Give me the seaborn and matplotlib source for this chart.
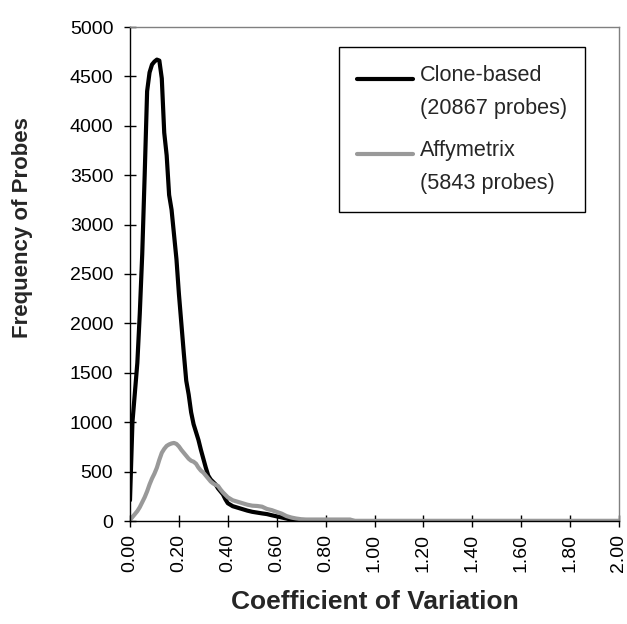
import numpy as np
import pandas as pd
import matplotlib
matplotlib.use("Agg")
import matplotlib.pyplot as plt
from matplotlib.legend_handler import HandlerLine2D
from matplotlib.lines import Line2D
import seaborn as sns

# ---- data ----
cv = [0.00, 0.01, 0.02, 0.03, 0.04, 0.05, 0.06, 0.07, 0.08, 0.09,
      0.10, 0.11, 0.12, 0.13, 0.14, 0.15, 0.16, 0.17, 0.18, 0.19,
      0.20, 0.21, 0.22, 0.23, 0.24, 0.25, 0.26, 0.27, 0.28, 0.29,
      0.30, 0.31, 0.32, 0.33, 0.34, 0.35, 0.36, 0.37, 0.38, 0.39,
      0.40, 0.42, 0.44, 0.46, 0.48, 0.50, 0.52, 0.54, 0.56, 0.58,
      0.60, 0.62, 0.64, 0.66, 0.68, 0.70, 0.72, 0.76, 0.80, 0.84,
      0.88, 0.90, 0.92, 1.00, 1.50, 2.00]

clone_based = [210, 1000, 1300, 1600, 2100, 2700, 3500, 4350, 4540, 4620,
               4650, 4670, 4660, 4480, 3930, 3700, 3300, 3150, 2900, 2650,
               2300, 2000, 1700, 1420, 1280, 1100, 980, 900, 820, 720,
               630, 540, 460, 420, 395, 370, 330, 300, 270, 220,
               180, 150, 135, 120, 105, 93, 85, 77, 70, 58,
               47, 36, 25, 13, 5, 0, 0, 0, 0, 0,
               0, 0, 0, 0, 0, 0]

affymetrix = [10, 40, 70, 100, 140, 190, 240, 300, 370, 430,
              480, 540, 620, 690, 730, 760, 775, 785, 790, 780,
              755, 720, 690, 660, 630, 610, 600, 580, 540, 510,
              490, 460, 430, 400, 380, 365, 355, 320, 290, 265,
              240, 210, 195, 180, 165, 155, 152, 145, 122, 110,
              92, 75, 50, 35, 25, 18, 15, 15, 15, 15,
              15, 15, 0, 0, 0, 0]

series_names = ["Clone-based\n(20867 probes)", "Affymetrix\n(5843 probes)"]
series_colors = ["#000000", "#999999"]
x_ticks = [0.0, 0.2, 0.4, 0.6, 0.8, 1.0, 1.2, 1.4, 1.6, 1.8, 2.0]
y_ticks = [0, 500, 1000, 1500, 2000, 2500, 3000, 3500, 4000, 4500, 5000]

df = pd.concat([
    pd.DataFrame({"cv": cv, "freq": clone_based, "series": series_names[0]}),
    pd.DataFrame({"cv": cv, "freq": affymetrix, "series": series_names[1]}),
], ignore_index=True)

sns.set_theme(style="white")
plt.rcParams["font.family"] = ["Liberation Sans", "DejaVu Sans"]

fig = plt.figure(figsize=(6.27, 6.24), dpi=100)
ax = fig.add_axes([130 / 627, 1 - 521 / 624, 489 / 627, 494 / 624])

sns.lineplot(data=df, x="cv", y="freq", hue="series", hue_order=series_names,
             palette=series_colors, linewidth=3.0, ax=ax, legend=False,
             sort=False, estimator=None)

ax.set_xlim(0, 2.0)
ax.set_ylim(0, 5000)
ax.set_xticks(x_ticks)
ax.set_xticklabels([f"{t:.2f}" for t in x_ticks], rotation=90)
ax.set_yticks(y_ticks)
ax.set_yticklabels([str(t) for t in y_ticks])
ax.tick_params(axis="both", direction="inout", length=8, width=1, color="black",
               labelsize=14, labelcolor="black")
ax.tick_params(axis="x", pad=5, bottom=True)
ax.tick_params(axis="y", pad=8, left=True)

for side in ["left", "bottom"]:
    ax.spines[side].set_color("black")
    ax.spines[side].set_linewidth(1.0)
for side in ["top", "right"]:
    ax.spines[side].set_color("#808080")
    ax.spines[side].set_linewidth(1.0)
    ax.spines[side].set_visible(True)
ax.set_xlabel("")
ax.set_ylabel("")

fig.text(375 / 627, 1 - 602 / 624, "Coefficient of Variation", ha="center",
         va="center", fontsize=19, fontweight="bold")
fig.text(23 / 627, 1 - 228 / 624, "Frequency of Probes", ha="center",
         va="center", rotation=90, fontsize=16, fontweight="bold")


class FirstLineHandler(HandlerLine2D):
    def __init__(self, shift, **kw):
        super().__init__(**kw)
        self.shift = shift

    def create_artists(self, legend, orig_handle, xdescent, ydescent, width,
                       height, fontsize, trans):
        arts = super().create_artists(legend, orig_handle, xdescent, ydescent,
                                      width, height, fontsize, trans)
        for a in arts:
            a.set_ydata(np.asarray(a.get_ydata(), dtype=float) + self.shift)
        return arts


handles = [Line2D([], [], color=c, linewidth=3.0) for c in series_colors]
leg = ax.legend(handles, series_names, loc="upper left",
                bbox_to_anchor=(339 / 627, 1 - 47 / 624),
                bbox_transform=fig.transFigure, fontsize=15.6, frameon=True,
                fancybox=False, edgecolor="black", framealpha=1,
                handlelength=2.55, handletextpad=0.33, borderpad=0.85,
                labelspacing=0.95, borderaxespad=0,
                handler_map={h: FirstLineHandler(10.0) for h in handles})
leg.get_frame().set_linewidth(1.0)
for t in leg.get_texts():
    t.set_linespacing(1.75)

fig.savefig("out.png", dpi=100)
